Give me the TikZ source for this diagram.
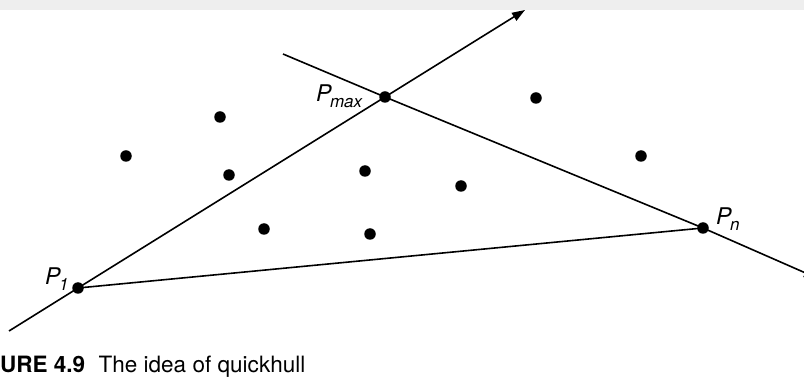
\documentclass[tikz,border=0pt]{standalone}
\usepackage{fontspec}
\setmainfont{TeX Gyre Heros}
\usetikzlibrary{arrows.meta}
\definecolor{bandgray}{HTML}{EEEEEE}
\newcommand\plabel[1]{P\kern-1.5pt\raisebox{-5.5pt}{\fontsize{17}{17}\selectfont #1}}
\tikzset{
 dotpt/.style={circle,fill=black,inner sep=0pt,minimum size=11.5pt},
 ln/.style={line width=1.6pt,line join=round},
 arr/.style={ln,-{Triangle[length=13pt,width=9pt]}},
 lbl/.style={inner sep=0pt,anchor=base west,font=\fontsize{23}{23}\selectfont\itshape},
}
\begin{document}
\begin{tikzpicture}[x=1pt,y=-1pt]
\useasboundingbox (0,0) rectangle (804,379);
\fill[bandgray] (0,0) rectangle (804,10);
\node[dotpt] (p1) at (78,288) {};
\node[dotpt] (pmax) at (385,97) {};
\node[dotpt] (pn) at (703,228) {};
\node[dotpt] (q1) at (126,156) {};
\node[dotpt] (q2) at (220,117) {};
\node[dotpt] (q3) at (229,175) {};
\node[dotpt] (q4) at (365,171) {};
\node[dotpt] (q5) at (461,186) {};
\node[dotpt] (q6) at (264,229) {};
\node[dotpt] (q7) at (370,234) {};
\node[dotpt] (q8) at (536,98) {};
\node[dotpt] (q9) at (641,156) {};
\coordinate (a1) at (9,331);
\coordinate (a2) at (525,10);
\coordinate (b1) at (283,54);
\coordinate (b2) at (817,278);
\draw[arr] (a1) -- (p1.center) -- (pmax.center) -- (a2);
\draw[arr] (b1) -- (pmax.center) -- (pn.center) -- (b2);
\draw[ln] (p1.center) -- (pn.center);
\node[lbl] (lmax) at (316,102) {\plabel{max}};
\node[lbl] (ln) at (716,225) {\plabel{n}};
\node[lbl] (l1) at (45,285) {\plabel{1}};
\node[inner sep=0pt,anchor=base west,font=\fontsize{22.5}{22.5}\selectfont] (cap) at (0,373) {\textbf{URE 4.9}\hspace{0.6em}The idea of quickhull};
\end{tikzpicture}
\end{document}
